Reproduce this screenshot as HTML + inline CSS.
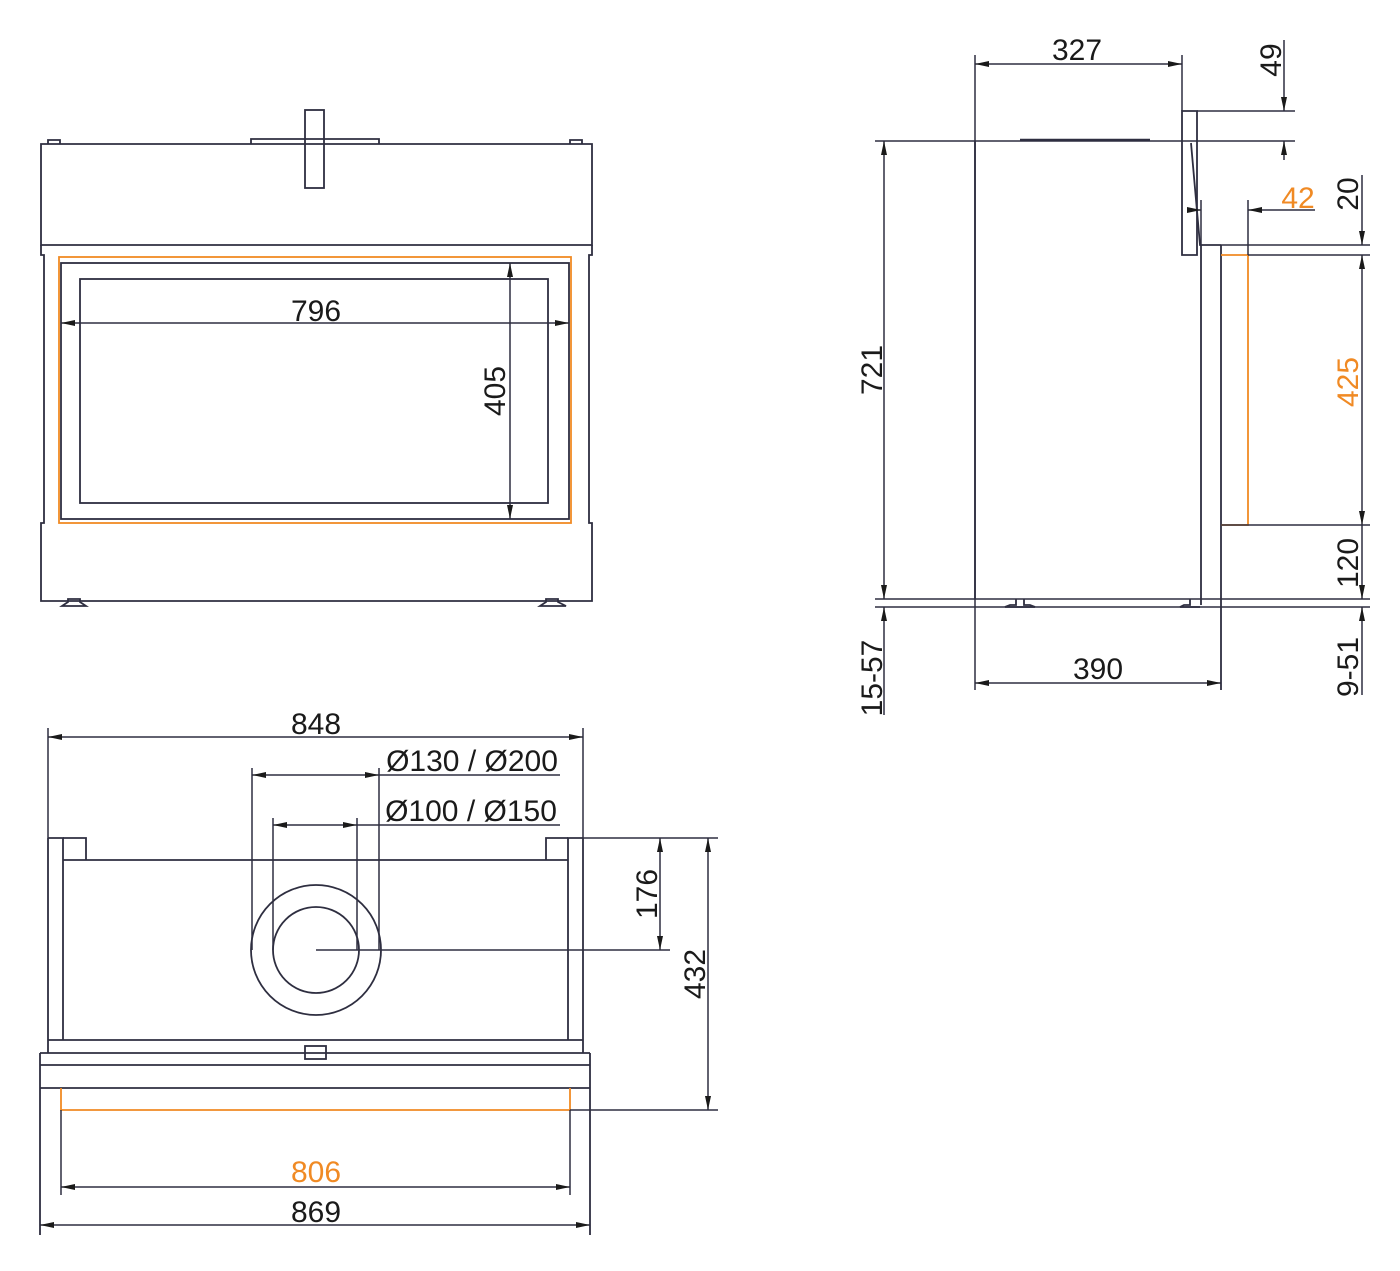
<!DOCTYPE html>
<html><head><meta charset="utf-8"><style>
body{margin:0;background:#fff}
svg{display:block}
text{font-family:"Liberation Sans",sans-serif;font-size:30px;fill:#1a1a1a}
.o{fill:#f08a24}
</style></head><body>
<svg width="1400" height="1271" viewBox="0 0 1400 1271" xmlns="http://www.w3.org/2000/svg">
<defs>
<marker id="a" viewBox="0 0 14 6" refX="14" refY="3" markerWidth="14" markerHeight="6" orient="auto-start-reverse" markerUnits="userSpaceOnUse"><path d="M0,0 L14,3 L0,6 z" fill="#1a1a1a"/></marker>
</defs>
<g fill="none" stroke="#2e2e40" stroke-width="1.8">
<path d="M41,144 H592 V245 H41 Z"/>
<path d="M41,245 V255 H44 V523 H41 V601 H592 V523 H589 V255 H592 V245"/>
<path d="M48,144 V140 H60 V144 M570,144 V140 H582 V144"/>
<path d="M251,144 V139 H379 V144"/>
<rect x="305" y="110" width="19" height="78"/>
<rect x="61" y="263" width="508" height="256"/>
<rect x="80" y="279" width="468" height="224"/>
<path d="M62,606 L68,602 V599 H80 V602 L86,606 Z M540,606 L546,602 V599 H558 V602 L566,606 Z"/>
<path d="M975,141 V599"/>
<path d="M1182,111 H1197 V255 H1182 Z"/>
<path d="M1191,143 L1200,245 H1221 M1201,245 V605 M1221,245 V690"/>
<path d="M1020,140 H1150" stroke-width="2.5"/>
<path d="M1016,599 V605 H1010 L1005,607 H1035 L1030,605 H1024 V599 M1190,599 V605 H1184 L1180,607 H1200"/>
<path d="M48,838 H63 V1040 M48,838 V1053 M583,838 H568 V1040 M583,838 V1053"/>
<path d="M63,838 H86 V860 M568,838 H546 V860 M63,860 H568"/>
<circle cx="316" cy="950" r="65"/>
<circle cx="316" cy="950" r="43"/>
<path d="M48,1040 H583 M40,1053 H590 M40,1065 H590 M40,1088 H590 M40,1053 V1235 M590,1053 V1235"/>
<rect x="305" y="1046" width="21" height="13"/>
</g>
<g fill="none" stroke="#f08a24" stroke-width="1.8">
<rect x="59" y="257" width="512" height="266"/>
<path d="M1221,255 H1248 V525 H1221"/>
<path d="M61,1088 V1110 H570 V1088"/>
</g>
<g fill="none" stroke="#2e2e40" stroke-width="1.5">
<line x1="61" y1="323" x2="569" y2="323" marker-start="url(#a)" marker-end="url(#a)"/>
<line x1="510" y1="263" x2="510" y2="519" marker-start="url(#a)" marker-end="url(#a)"/>
<line x1="975" y1="55" x2="975" y2="690"/>
<line x1="1182" y1="55" x2="1182" y2="111"/>
<line x1="975" y1="64" x2="1182" y2="64" marker-start="url(#a)" marker-end="url(#a)"/>
<line x1="1197" y1="111" x2="1295" y2="111"/>
<line x1="875" y1="141" x2="1295" y2="141"/>
<line x1="1284" y1="40" x2="1284" y2="111" marker-end="url(#a)"/>
<line x1="1284" y1="160" x2="1284" y2="141" marker-end="url(#a)"/>
<line x1="1248" y1="200" x2="1248" y2="255"/>
<line x1="1201" y1="200" x2="1201" y2="245"/>
<line x1="1188" y1="210" x2="1201" y2="210" marker-end="url(#a)"/>
<line x1="1315" y1="210" x2="1248" y2="210" marker-end="url(#a)"/>
<line x1="1221" y1="245" x2="1370" y2="245"/>
<line x1="1248" y1="255" x2="1370" y2="255"/>
<line x1="1221" y1="525" x2="1370" y2="525"/>
<line x1="875" y1="599" x2="1370" y2="599"/>
<line x1="875" y1="607" x2="1370" y2="607"/>
<line x1="1362" y1="175" x2="1362" y2="245" marker-end="url(#a)"/>
<line x1="1362" y1="255" x2="1362" y2="525" marker-start="url(#a)" marker-end="url(#a)"/>
<line x1="1362" y1="525" x2="1362" y2="599" marker-end="url(#a)"/>
<line x1="1362" y1="695" x2="1362" y2="607" marker-end="url(#a)"/>
<line x1="884" y1="141" x2="884" y2="599" marker-start="url(#a)" marker-end="url(#a)"/>
<line x1="884" y1="715" x2="884" y2="607" marker-end="url(#a)"/>
<line x1="975" y1="683" x2="1221" y2="683" marker-start="url(#a)" marker-end="url(#a)"/>
<line x1="48" y1="728" x2="48" y2="838"/>
<line x1="583" y1="728" x2="583" y2="838"/>
<line x1="48" y1="737" x2="583" y2="737" marker-start="url(#a)" marker-end="url(#a)"/>
<line x1="252" y1="768" x2="252" y2="950"/>
<line x1="379" y1="768" x2="379" y2="950"/>
<line x1="273" y1="818" x2="273" y2="950"/>
<line x1="357" y1="818" x2="357" y2="950"/>
<line x1="252" y1="775" x2="379" y2="775" marker-start="url(#a)" marker-end="url(#a)"/>
<line x1="379" y1="775" x2="560" y2="775"/>
<line x1="273" y1="825" x2="357" y2="825" marker-start="url(#a)" marker-end="url(#a)"/>
<line x1="357" y1="825" x2="560" y2="825"/>
<line x1="583" y1="838" x2="718" y2="838"/>
<line x1="316" y1="950" x2="670" y2="950"/>
<line x1="570" y1="1110" x2="718" y2="1110"/>
<line x1="660" y1="838" x2="660" y2="950" marker-start="url(#a)" marker-end="url(#a)"/>
<line x1="708" y1="838" x2="708" y2="1110" marker-start="url(#a)" marker-end="url(#a)"/>
<line x1="61" y1="1110" x2="61" y2="1195"/>
<line x1="570" y1="1110" x2="570" y2="1195"/>
<line x1="61" y1="1187" x2="570" y2="1187" marker-start="url(#a)" marker-end="url(#a)"/>
<line x1="40" y1="1225" x2="590" y2="1225" marker-start="url(#a)" marker-end="url(#a)"/>
</g>
<text x="316" y="321" text-anchor="middle">796</text>
<text transform="translate(505,391) rotate(-90)" text-anchor="middle">405</text>
<text x="1077" y="60" text-anchor="middle">327</text>
<text transform="translate(1281,60) rotate(-90)" text-anchor="middle">49</text>
<text class="o" x="1298" y="208" text-anchor="middle">42</text>
<text transform="translate(1358,194) rotate(-90)" text-anchor="middle">20</text>
<text class="o" transform="translate(1358,382) rotate(-90)" text-anchor="middle">425</text>
<text transform="translate(1358,563) rotate(-90)" text-anchor="middle">120</text>
<text transform="translate(1358,667) rotate(-90)" text-anchor="middle">9-51</text>
<text transform="translate(882,370) rotate(-90)" text-anchor="middle">721</text>
<text transform="translate(882,678) rotate(-90)" text-anchor="middle">15-57</text>
<text x="1098" y="679" text-anchor="middle">390</text>
<text x="316" y="734" text-anchor="middle">848</text>
<text x="472" y="771" text-anchor="middle">Ø130 / Ø200</text>
<text x="471" y="821" text-anchor="middle">Ø100 / Ø150</text>
<text transform="translate(657,894) rotate(-90)" text-anchor="middle">176</text>
<text transform="translate(705,974) rotate(-90)" text-anchor="middle">432</text>
<text class="o" x="316" y="1182" text-anchor="middle">806</text>
<text x="316" y="1222" text-anchor="middle">869</text>
</svg>
</body></html>
